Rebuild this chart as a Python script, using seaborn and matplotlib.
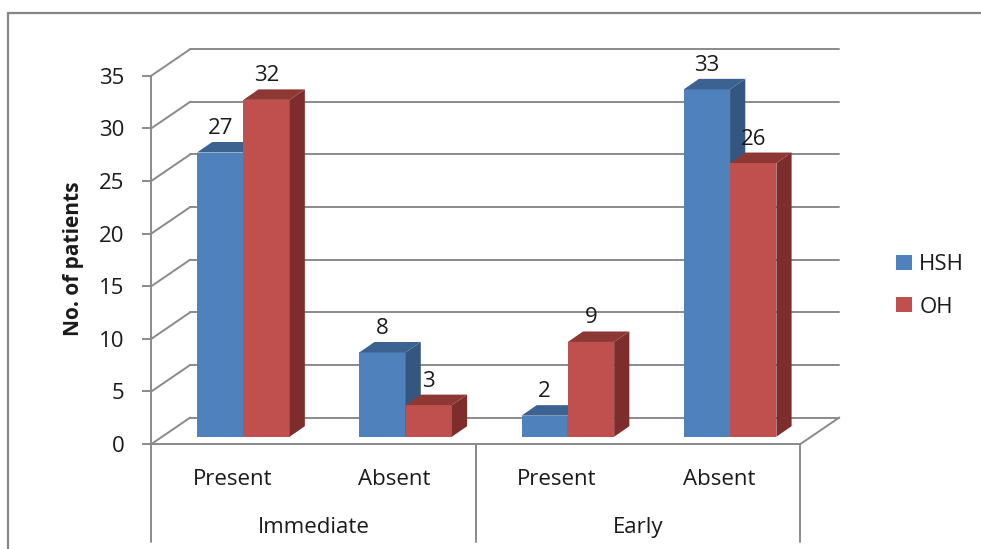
import numpy as np
import pandas as pd
import matplotlib
matplotlib.use("Agg")
import matplotlib.pyplot as plt
from matplotlib.patches import Polygon
from matplotlib.transforms import Affine2D, IdentityTransform
from matplotlib.lines import Line2D
import seaborn as sns

# ---- data -------------------------------------------------------------
timing = ["Immediate", "Immediate", "Early", "Early"]
status = ["Present", "Absent", "Present", "Absent"]
groups = ["HSH", "OH"]
hsh_counts = [27, 8, 2, 33]
oh_counts = [32, 3, 9, 26]
y_ticks = [0, 5, 10, 15, 20, 25, 30, 35]

cells = [f"{t} {s}" for t, s in zip(timing, status)]
df = pd.DataFrame({
    "cell": cells * 2,
    "group": ["HSH"] * 4 + ["OH"] * 4,
    "count": hsh_counts + oh_counts,
})

# ---- style ------------------------------------------------------------
sns.set_style("white")
plt.rcParams["font.family"] = ["Open Sans", "DejaVu Sans"]
TXT = "#1a1a1a"
GRID = "#8a8a8a"
front_cols = {"HSH": "#4F81BD", "OH": "#C0504D"}
side_cols = {"HSH": "#34567F", "OH": "#7D2E2C"}
top_cols = {"HSH": "#3B6291", "OH": "#8E3835"}

W, H = 981, 549
fig = plt.figure(figsize=(W / 100, H / 100), dpi=100)
fig.patch.set_facecolor("white")


def fx(px):
    return px / W


def fy(py):
    return 1 - py / H


# front plane of the 3-D box: value axis and floor front edge
x0, y0, aw, ah = 151.3, 444.1, 649.0, 368.4
ax = fig.add_axes([fx(x0), fy(y0), aw / W, ah / H])

sns.barplot(data=df, x="cell", y="count", hue="group", order=cells,
            hue_order=groups, palette=front_cols, width=0.571,
            saturation=1, ax=ax, legend=True, linewidth=0)

ax.set_xlim(-0.5, 3.5)
ax.set_ylim(0, 35)
ax.set_facecolor("none")

# pixel offsets (display units) for the 3-D look
BAR_PLANE = (10.9, 7.4)      # bars sit slightly behind the front plane
BACK_WALL = (39.0, 26.6)     # back wall of the box
DEPTH = (15.2, 10.5)         # thickness of each column

bar_tr = ax.transData + Affine2D().translate(*BAR_PLANE)
back_tr = ax.transData + Affine2D().translate(*BACK_WALL)

# walls: diagonal tick lines on the side wall and gridlines on the back wall
for t in y_ticks:
    p_front = ax.transData.transform((-0.5, t))
    p_back = back_tr.transform((-0.5, t))
    ax.add_line(Line2D([p_front[0], p_back[0]], [p_front[1], p_back[1]],
                       transform=IdentityTransform(), color=GRID, lw=1.4,
                       zorder=0.5, clip_on=False))
    ax.plot([-0.5, 3.5], [t, t], transform=back_tr, color=GRID, lw=1.4,
            zorder=0.5, clip_on=False)

# right edge of the floor
pf = ax.transData.transform((3.5, 0))
pb = back_tr.transform((3.5, 0))
ax.add_line(Line2D([pf[0], pb[0]], [pf[1], pb[1]], transform=IdentityTransform(),
                   color=GRID, lw=1.4, zorder=0.5, clip_on=False))

# columns: shift the fronts into the bar plane and add side and top faces
values = {"HSH": hsh_counts, "OH": oh_counts}
for gi, (grp, cont) in enumerate(zip(groups, ax.containers)):
    z = 3 + gi
    for bar, val in zip(cont.patches, values[grp]):
        bar.set_transform(bar_tr)
        bar.set_zorder(z)
        bar.set_clip_on(False)
        xl = bar.get_x()
        xr = xl + bar.get_width()
        h = bar.get_height()
        bl, br, tl, tr_ = bar_tr.transform([(xl, 0), (xr, 0), (xl, h), (xr, h)])
        d = np.array(DEPTH)
        side = Polygon([br, tr_, tr_ + d, br + d], closed=True,
                       transform=IdentityTransform(), facecolor=side_cols[grp],
                       edgecolor="none", zorder=z, clip_on=False)
        top = Polygon([tl, tr_, tr_ + d, tl + d], closed=True,
                      transform=IdentityTransform(), facecolor=top_cols[grp],
                      edgecolor="none", zorder=z, clip_on=False)
        ax.add_patch(side)
        ax.add_patch(top)
        ax.annotate(f"{val}", xy=((xl + xr) / 2, val), xycoords=bar_tr,
                    xytext=(0, 18.5), textcoords="offset pixels",
                    ha="center", va="baseline", fontsize=16, color=TXT,
                    zorder=10, annotation_clip=False)

# value axis
for s in ["top", "right"]:
    ax.spines[s].set_visible(False)
for s in ["left", "bottom"]:
    ax.spines[s].set_color(GRID)
    ax.spines[s].set_linewidth(1.4)
    ax.spines[s].set_zorder(0.6)
ax.set_yticks(y_ticks)
ax.tick_params(axis="y", length=6.5, width=1.4, color=GRID, pad=12.7,
               labelsize=16, labelcolor=TXT, left=True)
ax.set_xticks([])
ax.set_xlabel("")
ax.set_ylabel("No. of patients", fontsize=15, fontweight="bold", color=TXT,
              va="center")
ax.yaxis.set_label_coords((73 - x0) / aw, (H - 259 - (H - y0)) / ah)

# two-level category axis
def ax_y(py):
    return (H - py - (H - y0)) / ah


xform = ax.get_xaxis_transform()
for i, s in enumerate(status):
    ax.text(i, ax_y(485), s, transform=xform, ha="center", va="baseline",
            fontsize=16, color=TXT)
for pos, lab in [(0.5, "Immediate"), (2.5, "Early")]:
    ax.text(pos, ax_y(533.3), lab, transform=xform, ha="center",
            va="baseline", fontsize=16, color=TXT)
for xd in [-0.5, 1.5, 3.5]:
    ax.plot([xd, xd], [0, ax_y(542)], transform=xform, color=GRID, lw=1.4,
            clip_on=False, zorder=0.6)

# legend
sns.move_legend(ax, loc="center left", bbox_to_anchor=(fx(896), fy(286)),
                bbox_transform=fig.transFigure, frameon=False, title=None,
                fontsize=16, handlelength=0.7, handleheight=0.68,
                handletextpad=0.35, labelspacing=0.95, borderpad=0,
                borderaxespad=0)
for t in ax.get_legend().get_texts():
    t.set_color(TXT)

# chart area border (top and left edges)
fig.add_artist(Line2D([fx(8), fx(8)], [fy(13), 0], transform=fig.transFigure,
                      color="#858585", lw=1.6))
fig.add_artist(Line2D([fx(8), 1], [fy(13), fy(13)], transform=fig.transFigure,
                      color="#858585", lw=1.6))

fig.savefig("out.png", dpi=100, facecolor="white")
